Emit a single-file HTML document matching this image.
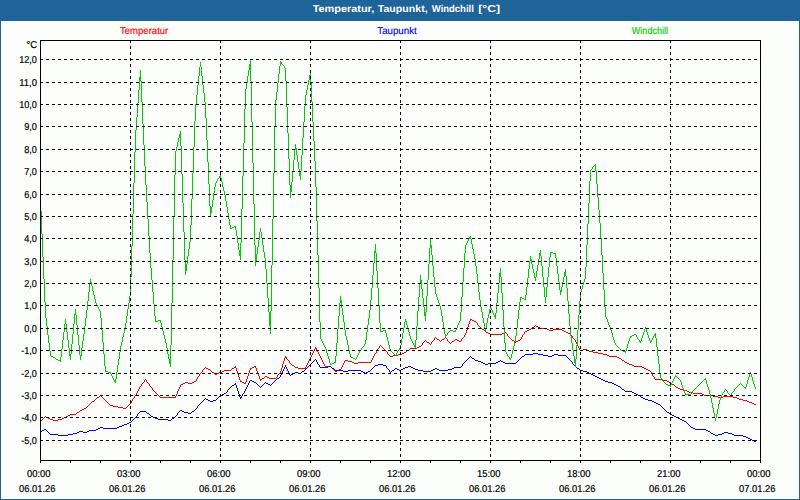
<!DOCTYPE html>
<html lang="de"><head><meta charset="utf-8"><title>Temperatur, Taupunkt, Windchill [°C]</title>
<style>
html,body{margin:0;padding:0;background:#FCFEFC;overflow:hidden}
svg{display:block}
</style></head><body>
<svg width="800" height="500" viewBox="0 0 800 500" shape-rendering="crispEdges" role="img" aria-label="Temperatur, Taupunkt, Windchill">
<rect width="800" height="500" fill="#FCFEFC"/>
<path fill="#1E6496" d="M0 0h800v21h-800zM0 21h1v479h-1zM799 21h1v479h-1zM1 499h798v1h-798z"/>
<defs><pattern id="d" width="4" height="6" patternUnits="userSpaceOnUse"><path fill="#2167AE" d="M2 1h1v1h-1zM1 3h1v1h-1zM0 5h1v1h-1z"/></pattern></defs>
<rect x="0" y="0" width="800" height="21" fill="url(#d)"/>
<path fill="#FF0000" d="M40 421h1v1h-1zM41 420h1v1h-1zM42 419h1v1h-1zM43 418h1v1h-1zM44 417h1v1h-1zM45 416h1v1h-1zM46 417h2v1h-2zM48 418h2v1h-2zM50 419h3v1h-3zM53 420h5v1h-5zM58 419h4v1h-4zM62 418h2v1h-2zM64 417h2v1h-2zM66 416h2v1h-2zM68 415h2v1h-2zM70 414h6v1h-6zM76 413h1v1h-1zM77 412h2v1h-2zM79 411h1v1h-1zM80 410h2v1h-2zM82 409h2v1h-2zM84 408h2v1h-2zM86 407h1v1h-1zM87 406h1v1h-1zM88 405h1v1h-1zM89 404h1v1h-1zM90 403h1v1h-1zM91 402h1v1h-1zM92 401h2v1h-2zM94 400h1v1h-1zM95 399h1v1h-1zM96 398h1v1h-1zM97 397h2v1h-2zM99 396h1v1h-1zM100 395h1v1h-1zM101 396h1v1h-1zM102 397h1v1h-1zM103 398h1v1h-1zM104 399h1v1h-1zM105 400h1v1h-1zM106 401h1v1h-1zM107 402h1v1h-1zM108 403h1v1h-1zM109 404h1v1h-1zM110 405h3v1h-3zM113 406h5v1h-5zM118 407h5v1h-5zM123 408h3v1h-3zM126 407h1v1h-1zM127 406h1v1h-1zM128 405h1v1h-1zM129 404h1v1h-1zM130 403h1v1h-1zM131 401h1v2h-1zM132 399h1v2h-1zM133 398h1v1h-1zM134 396h1v2h-1zM135 395h1v1h-1zM136 393h1v2h-1zM137 391h1v2h-1zM138 389h1v2h-1zM139 387h1v2h-1zM140 386h1v1h-1zM141 384h1v2h-1zM142 383h1v1h-1zM143 382h1v1h-1zM144 380h1v2h-1zM145 379h1v1h-1zM146 380h1v2h-1zM147 382h1v1h-1zM148 383h1v1h-1zM149 384h1v2h-1zM150 386h1v1h-1zM151 387h1v1h-1zM152 388h1v2h-1zM153 390h1v1h-1zM154 391h1v1h-1zM155 392h1v1h-1zM156 393h1v1h-1zM157 394h1v1h-1zM158 395h1v1h-1zM159 396h1v1h-1zM160 397h15v1h-15zM175 396h1v2h-1zM176 394h1v2h-1zM177 391h1v3h-1zM178 389h1v2h-1zM179 387h1v2h-1zM180 385h1v2h-1zM181 384h2v1h-2zM183 383h2v1h-2zM185 382h3v1h-3zM188 383h4v1h-4zM192 382h2v1h-2zM194 381h2v1h-2zM196 379h1v2h-1zM197 377h1v2h-1zM198 376h1v1h-1zM199 374h1v2h-1zM200 373h1v1h-1zM201 372h1v1h-1zM202 370h1v2h-1zM203 369h1v1h-1zM204 368h1v1h-1zM205 367h1v1h-1zM206 368h2v1h-2zM208 369h2v1h-2zM210 370h1v1h-1zM211 371h1v1h-1zM212 372h2v1h-2zM214 373h1v1h-1zM215 374h2v1h-2zM217 373h2v1h-2zM219 372h3v1h-3zM222 371h2v1h-2zM224 370h7v1h-7zM231 369h1v1h-1zM232 368h2v1h-2zM234 367h1v1h-1zM235 366h1v2h-1zM236 368h1v3h-1zM237 371h1v3h-1zM238 374h1v3h-1zM239 377h1v3h-1zM240 380h1v2h-1zM241 381h1v1h-1zM242 382h2v1h-2zM244 383h1v1h-1zM245 382h1v2h-1zM246 379h1v3h-1zM247 376h1v3h-1zM248 373h1v3h-1zM249 370h1v3h-1zM250 368h1v2h-1zM251 368h1v1h-1zM252 367h2v1h-2zM254 366h1v1h-1zM255 366h1v2h-1zM256 368h1v3h-1zM257 371h1v3h-1zM258 374h1v2h-1zM259 376h1v3h-1zM260 379h1v2h-1zM261 379h1v1h-1zM262 378h2v1h-2zM264 377h1v1h-1zM265 376h2v1h-2zM267 377h2v1h-2zM269 378h7v1h-7zM276 377h1v1h-1zM277 375h1v2h-1zM278 374h1v1h-1zM279 373h1v1h-1zM280 371h1v2h-1zM281 368h1v3h-1zM282 364h1v4h-1zM283 361h1v3h-1zM284 358h1v3h-1zM285 356h1v2h-1zM286 357h1v2h-1zM287 359h1v1h-1zM288 360h1v1h-1zM289 361h1v2h-1zM290 363h1v1h-1zM291 364h1v1h-1zM292 365h2v1h-2zM294 366h1v1h-1zM295 367h3v1h-3zM298 368h7v1h-7zM305 367h1v2h-1zM306 365h1v2h-1zM307 363h1v2h-1zM308 361h1v2h-1zM309 359h1v2h-1zM310 357h1v2h-1zM311 355h1v2h-1zM312 353h1v2h-1zM313 351h1v2h-1zM314 349h1v2h-1zM315 347h1v2h-1zM316 348h1v2h-1zM317 350h1v2h-1zM318 352h1v2h-1zM319 354h1v2h-1zM320 356h1v2h-1zM321 358h1v2h-1zM322 360h1v2h-1zM323 362h1v2h-1zM324 364h1v2h-1zM325 366h6v1h-6zM331 367h1v1h-1zM332 368h1v1h-1zM333 369h1v1h-1zM334 370h1v1h-1zM335 371h2v1h-2zM337 370h2v1h-2zM339 369h2v1h-2zM341 367h1v2h-1zM342 365h1v2h-1zM343 363h1v2h-1zM344 361h1v2h-1zM345 360h3v1h-3zM348 361h4v1h-4zM352 362h2v1h-2zM354 363h4v1h-4zM358 362h13v1h-13zM371 360h1v2h-1zM372 358h1v2h-1zM373 356h1v2h-1zM374 354h1v2h-1zM375 353h1v1h-1zM376 351h1v2h-1zM377 349h1v2h-1zM378 348h1v1h-1zM379 346h1v2h-1zM380 345h1v1h-1zM381 346h1v1h-1zM382 347h1v1h-1zM383 348h1v1h-1zM384 349h1v1h-1zM385 350h1v1h-1zM386 351h1v1h-1zM387 352h1v2h-1zM388 354h1v1h-1zM389 355h1v1h-1zM390 356h3v1h-3zM393 355h5v1h-5zM398 354h4v1h-4zM402 353h2v1h-2zM404 352h2v1h-2zM406 351h1v1h-1zM407 350h2v1h-2zM409 349h1v1h-1zM410 348h7v1h-7zM417 347h2v1h-2zM419 346h2v1h-2zM421 345h1v1h-1zM422 343h1v2h-1zM423 342h1v1h-1zM424 341h1v1h-1zM425 340h1v1h-1zM426 341h1v1h-1zM427 342h2v1h-2zM429 343h1v1h-1zM430 344h1v1h-1zM431 342h1v2h-1zM432 341h1v1h-1zM433 340h1v1h-1zM434 338h1v2h-1zM435 337h1v1h-1zM436 338h1v1h-1zM437 339h2v1h-2zM439 340h1v1h-1zM440 341h1v1h-1zM441 340h1v1h-1zM442 339h2v1h-2zM444 338h1v1h-1zM445 337h1v1h-1zM446 338h1v1h-1zM447 339h1v2h-1zM448 341h1v1h-1zM449 342h1v1h-1zM450 343h1v1h-1zM451 342h1v1h-1zM452 341h2v1h-2zM454 340h1v1h-1zM455 339h2v1h-2zM457 340h2v1h-2zM459 341h2v1h-2zM461 339h1v2h-1zM462 338h1v1h-1zM463 337h1v1h-1zM464 335h1v2h-1zM465 333h1v2h-1zM466 330h1v3h-1zM467 327h1v3h-1zM468 324h1v3h-1zM469 321h1v3h-1zM470 319h1v2h-1zM471 319h1v1h-1zM472 320h2v1h-2zM474 321h2v1h-2zM476 322h1v1h-1zM477 323h1v2h-1zM478 325h1v1h-1zM479 326h1v1h-1zM480 327h1v1h-1zM481 328h1v1h-1zM482 329h2v1h-2zM484 330h1v1h-1zM485 331h1v1h-1zM486 332h2v1h-2zM488 333h2v1h-2zM490 334h12v1h-12zM502 333h2v1h-2zM504 332h2v1h-2zM506 333h1v1h-1zM507 334h1v2h-1zM508 336h1v1h-1zM509 337h1v1h-1zM510 338h1v1h-1zM511 339h1v1h-1zM512 340h2v1h-2zM514 341h1v1h-1zM515 342h1v1h-1zM516 341h2v1h-2zM518 340h2v1h-2zM520 339h1v1h-1zM521 337h1v2h-1zM522 335h1v2h-1zM523 334h1v1h-1zM524 332h1v2h-1zM525 331h2v1h-2zM527 330h2v1h-2zM529 329h2v1h-2zM531 328h1v1h-1zM532 327h2v1h-2zM534 326h1v1h-1zM535 325h1v1h-1zM536 326h2v1h-2zM538 327h2v1h-2zM540 328h7v1h-7zM547 329h2v1h-2zM549 330h4v1h-4zM553 329h9v1h-9zM562 330h2v1h-2zM564 331h2v1h-2zM566 332h2v1h-2zM568 333h2v1h-2zM570 334h1v1h-1zM571 335h1v1h-1zM572 336h1v2h-1zM573 338h1v1h-1zM574 339h1v1h-1zM575 340h1v2h-1zM576 342h1v2h-1zM577 344h1v2h-1zM578 346h1v2h-1zM579 348h1v2h-1zM580 350h3v1h-3zM583 349h4v1h-4zM587 350h2v1h-2zM589 351h4v1h-4zM593 352h5v1h-5zM598 353h5v1h-5zM603 354h4v1h-4zM607 355h2v1h-2zM609 356h8v1h-8zM617 357h2v1h-2zM619 358h2v1h-2zM621 359h1v1h-1zM622 360h2v1h-2zM624 361h1v1h-1zM625 362h2v1h-2zM627 363h2v1h-2zM629 364h3v1h-3zM632 365h2v1h-2zM634 366h8v1h-8zM642 367h2v1h-2zM644 368h2v1h-2zM646 369h2v1h-2zM648 370h2v1h-2zM650 371h1v1h-1zM651 372h1v2h-1zM652 374h1v2h-1zM653 376h1v1h-1zM654 377h1v2h-1zM655 379h8v1h-8zM663 380h4v1h-4zM667 381h2v1h-2zM669 382h2v1h-2zM671 383h1v1h-1zM672 384h2v1h-2zM674 385h1v1h-1zM675 386h1v1h-1zM676 387h2v1h-2zM678 388h2v1h-2zM680 389h3v1h-3zM683 390h4v1h-4zM687 391h2v1h-2zM689 392h4v1h-4zM693 393h9v1h-9zM702 394h2v1h-2zM704 395h9v1h-9zM713 396h5v1h-5zM718 397h5v1h-5zM723 396h10v1h-10zM733 397h4v1h-4zM737 398h2v1h-2zM739 399h4v1h-4zM743 400h4v1h-4zM747 401h2v1h-2zM749 402h3v1h-3zM752 403h2v1h-2zM754 404h2v1h-2z"/>
<path fill="#0000FF" d="M40 431h2v1h-2zM42 430h2v1h-2zM44 429h2v1h-2zM46 430h1v1h-1zM47 431h1v1h-1zM48 432h1v1h-1zM49 433h1v1h-1zM50 434h8v1h-8zM58 435h10v1h-10zM68 434h5v1h-5zM73 433h4v1h-4zM77 432h2v1h-2zM79 431h4v1h-4zM83 432h4v1h-4zM87 431h2v1h-2zM89 430h7v1h-7zM96 429h2v1h-2zM98 428h2v1h-2zM100 427h3v1h-3zM103 428h14v1h-14zM117 427h2v1h-2zM119 426h3v1h-3zM122 425h2v1h-2zM124 424h3v1h-3zM127 423h2v1h-2zM129 422h2v1h-2zM131 421h1v1h-1zM132 420h1v1h-1zM133 419h1v1h-1zM134 418h1v1h-1zM135 417h1v1h-1zM136 416h1v1h-1zM137 414h1v2h-1zM138 413h1v1h-1zM139 412h1v1h-1zM140 411h6v1h-6zM146 412h1v1h-1zM147 413h2v1h-2zM149 414h1v1h-1zM150 415h1v1h-1zM151 416h2v1h-2zM153 417h2v1h-2zM155 418h3v1h-3zM158 419h10v1h-10zM168 420h3v1h-3zM171 419h1v1h-1zM172 418h2v1h-2zM174 417h1v1h-1zM175 416h1v1h-1zM176 415h1v1h-1zM177 413h1v2h-1zM178 412h1v1h-1zM179 411h1v1h-1zM180 410h2v1h-2zM182 411h2v1h-2zM184 412h4v1h-4zM188 413h3v1h-3zM191 412h1v1h-1zM192 411h2v1h-2zM194 410h1v1h-1zM195 409h1v1h-1zM196 408h1v1h-1zM197 406h1v2h-1zM198 405h1v1h-1zM199 404h1v1h-1zM200 403h1v1h-1zM201 402h1v1h-1zM202 401h1v1h-1zM203 400h1v1h-1zM204 399h1v1h-1zM205 398h1v1h-1zM206 399h2v1h-2zM208 400h2v1h-2zM210 401h3v1h-3zM213 400h3v1h-3zM216 399h1v1h-1zM217 398h1v1h-1zM218 397h1v1h-1zM219 396h1v1h-1zM220 395h2v1h-2zM222 394h2v1h-2zM224 393h2v1h-2zM226 392h1v1h-1zM227 390h1v2h-1zM228 389h1v1h-1zM229 388h1v1h-1zM230 387h1v1h-1zM231 386h1v1h-1zM232 385h2v1h-2zM234 384h1v1h-1zM235 383h1v2h-1zM236 385h1v3h-1zM237 388h1v3h-1zM238 391h1v3h-1zM239 394h1v3h-1zM240 397h1v2h-1zM241 396h1v2h-1zM242 394h1v2h-1zM243 393h1v1h-1zM244 391h1v2h-1zM245 389h1v2h-1zM246 387h1v2h-1zM247 385h1v2h-1zM248 383h1v2h-1zM249 381h1v2h-1zM250 380h2v1h-2zM252 381h2v1h-2zM254 382h2v1h-2zM256 383h1v1h-1zM257 384h1v1h-1zM258 385h1v1h-1zM259 386h1v1h-1zM260 387h1v1h-1zM261 386h1v1h-1zM262 385h1v1h-1zM263 384h1v1h-1zM264 383h1v1h-1zM265 382h1v1h-1zM266 383h2v1h-2zM268 384h2v1h-2zM270 385h1v1h-1zM271 384h1v1h-1zM272 383h1v1h-1zM273 382h1v1h-1zM274 381h1v1h-1zM275 380h1v1h-1zM276 379h1v1h-1zM277 378h2v1h-2zM279 377h1v1h-1zM280 375h1v2h-1zM281 373h1v2h-1zM282 371h1v2h-1zM283 369h1v2h-1zM284 367h1v2h-1zM285 365h1v2h-1zM286 367h1v2h-1zM287 369h1v2h-1zM288 371h1v2h-1zM289 373h1v2h-1zM290 375h1v1h-1zM291 374h2v1h-2zM293 373h2v1h-2zM295 372h3v1h-3zM298 373h3v1h-3zM301 372h1v1h-1zM302 371h2v1h-2zM304 370h1v1h-1zM305 369h1v1h-1zM306 368h1v1h-1zM307 367h1v1h-1zM308 366h1v1h-1zM309 365h1v1h-1zM310 364h1v1h-1zM311 363h1v1h-1zM312 362h1v1h-1zM313 361h1v1h-1zM314 360h1v1h-1zM315 359h1v1h-1zM316 360h1v2h-1zM317 362h1v2h-1zM318 364h1v1h-1zM319 365h1v2h-1zM320 367h8v1h-8zM328 366h3v1h-3zM331 367h1v1h-1zM332 368h2v1h-2zM334 369h1v1h-1zM335 370h8v1h-8zM343 371h5v1h-5zM348 370h13v1h-13zM361 371h2v1h-2zM363 372h2v1h-2zM365 373h1v1h-1zM366 372h2v1h-2zM368 371h2v1h-2zM370 370h1v1h-1zM371 369h1v1h-1zM372 368h1v1h-1zM373 367h1v1h-1zM374 366h1v1h-1zM375 365h3v1h-3zM378 364h5v1h-5zM383 365h3v1h-3zM386 366h1v2h-1zM387 368h1v1h-1zM388 369h1v1h-1zM389 370h1v2h-1zM390 372h1v1h-1zM391 371h1v1h-1zM392 370h2v1h-2zM394 369h1v1h-1zM395 368h2v1h-2zM397 369h2v1h-2zM399 370h2v1h-2zM401 369h2v1h-2zM403 368h2v1h-2zM405 367h3v1h-3zM408 366h3v1h-3zM411 367h2v1h-2zM413 368h2v1h-2zM415 369h3v1h-3zM418 370h5v1h-5zM423 371h8v1h-8zM431 370h2v1h-2zM433 369h2v1h-2zM435 368h2v1h-2zM437 369h2v1h-2zM439 370h9v1h-9zM448 369h4v1h-4zM452 368h2v1h-2zM454 367h7v1h-7zM461 366h1v1h-1zM462 364h1v2h-1zM463 363h1v1h-1zM464 362h1v1h-1zM465 361h1v1h-1zM466 360h1v1h-1zM467 359h1v1h-1zM468 358h1v1h-1zM469 357h1v1h-1zM470 356h1v1h-1zM471 357h1v1h-1zM472 358h2v1h-2zM474 359h1v1h-1zM475 360h3v1h-3zM478 361h3v1h-3zM481 362h2v1h-2zM483 363h2v1h-2zM485 364h3v1h-3zM488 363h8v1h-8zM496 362h2v1h-2zM498 361h2v1h-2zM500 360h1v1h-1zM501 361h2v1h-2zM503 362h2v1h-2zM505 363h11v1h-11zM516 362h1v1h-1zM517 361h1v1h-1zM518 360h1v1h-1zM519 359h1v1h-1zM520 358h1v1h-1zM521 357h1v1h-1zM522 356h2v1h-2zM524 355h1v1h-1zM525 354h8v1h-8zM533 353h5v1h-5zM538 354h5v1h-5zM543 355h5v1h-5zM548 356h4v1h-4zM552 355h2v1h-2zM554 354h4v1h-4zM558 355h8v1h-8zM566 356h1v1h-1zM567 357h1v1h-1zM568 358h1v1h-1zM569 359h1v1h-1zM570 360h1v1h-1zM571 361h1v1h-1zM572 362h1v2h-1zM573 364h1v1h-1zM574 365h1v1h-1zM575 366h1v1h-1zM576 367h1v1h-1zM577 368h2v1h-2zM579 369h1v1h-1zM580 370h3v1h-3zM583 371h4v1h-4zM587 372h2v1h-2zM589 373h2v1h-2zM591 374h2v1h-2zM593 375h2v1h-2zM595 376h2v1h-2zM597 377h2v1h-2zM599 378h2v1h-2zM601 379h2v1h-2zM603 380h2v1h-2zM605 381h3v1h-3zM608 382h4v1h-4zM612 383h2v1h-2zM614 384h2v1h-2zM616 385h2v1h-2zM618 386h2v1h-2zM620 387h1v1h-1zM621 388h1v1h-1zM622 389h2v1h-2zM624 390h1v1h-1zM625 391h7v1h-7zM632 392h2v1h-2zM634 393h2v1h-2zM636 394h2v1h-2zM638 395h2v1h-2zM640 396h1v1h-1zM641 397h2v1h-2zM643 398h2v1h-2zM645 399h3v1h-3zM648 400h4v1h-4zM652 401h2v1h-2zM654 402h2v1h-2zM656 403h2v1h-2zM658 404h2v1h-2zM660 405h1v1h-1zM661 406h1v1h-1zM662 407h1v1h-1zM663 408h1v1h-1zM664 409h1v1h-1zM665 410h1v1h-1zM666 411h1v1h-1zM667 412h2v1h-2zM669 413h1v1h-1zM670 414h2v1h-2zM672 415h2v1h-2zM674 416h2v1h-2zM676 417h2v1h-2zM678 418h2v1h-2zM680 419h2v1h-2zM682 420h2v1h-2zM684 421h2v1h-2zM686 422h1v1h-1zM687 423h1v1h-1zM688 424h1v1h-1zM689 425h1v1h-1zM690 426h1v1h-1zM691 427h2v1h-2zM693 428h2v1h-2zM695 429h11v1h-11zM706 430h2v1h-2zM708 431h2v1h-2zM710 432h1v1h-1zM711 433h2v1h-2zM713 434h2v1h-2zM715 435h3v1h-3zM718 434h4v1h-4zM722 433h2v1h-2zM724 432h4v1h-4zM728 433h4v1h-4zM732 434h2v1h-2zM734 435h9v1h-9zM743 436h3v1h-3zM746 437h2v1h-2zM748 438h2v1h-2zM750 439h2v1h-2zM752 440h2v1h-2zM754 441h2v1h-2z"/>
<path fill="#00CC00" d="M40 199h1v12h-1zM41 211h1v23h-1zM42 234h1v23h-1zM43 257h1v22h-1zM44 279h1v23h-1zM45 302h1v16h-1zM46 318h1v8h-1zM47 326h1v9h-1zM48 335h1v8h-1zM49 343h1v8h-1zM50 351h1v5h-1zM51 356h2v1h-2zM53 357h2v1h-2zM55 358h1v1h-1zM56 359h2v1h-2zM58 360h2v1h-2zM60 357h1v5h-1zM61 349h1v8h-1zM62 340h1v9h-1zM63 332h1v8h-1zM64 324h1v8h-1zM65 319h1v5h-1zM66 324h1v8h-1zM67 332h1v8h-1zM68 340h1v8h-1zM69 348h1v8h-1zM70 354h1v6h-1zM71 344h1v10h-1zM72 334h1v10h-1zM73 324h1v10h-1zM74 314h1v10h-1zM75 309h1v6h-1zM76 315h1v10h-1zM77 325h1v10h-1zM78 335h1v10h-1zM79 345h1v10h-1zM80 355h1v5h-1zM81 348h1v8h-1zM82 341h1v7h-1zM83 334h1v7h-1zM84 326h1v8h-1zM85 318h1v8h-1zM86 310h1v8h-1zM87 301h1v9h-1zM88 292h1v9h-1zM89 284h1v8h-1zM90 279h1v5h-1zM91 282h1v4h-1zM92 286h1v5h-1zM93 291h1v4h-1zM94 295h1v4h-1zM95 299h1v4h-1zM96 303h1v2h-1zM97 305h1v2h-1zM98 307h1v2h-1zM99 309h1v2h-1zM100 311h1v7h-1zM101 318h1v12h-1zM102 330h1v12h-1zM103 342h1v12h-1zM104 354h1v12h-1zM105 366h1v6h-1zM106 371h2v1h-2zM108 372h2v1h-2zM110 372h1v2h-1zM111 374h1v2h-1zM112 376h1v2h-1zM113 378h1v2h-1zM114 380h1v2h-1zM115 379h1v4h-1zM116 372h1v7h-1zM117 365h1v7h-1zM118 359h1v6h-1zM119 352h1v7h-1zM120 346h1v6h-1zM121 342h1v4h-1zM122 337h1v5h-1zM123 333h1v4h-1zM124 329h1v4h-1zM125 323h1v6h-1zM126 316h1v7h-1zM127 309h1v7h-1zM128 303h1v6h-1zM129 296h1v7h-1zM130 277h1v19h-1zM131 246h1v31h-1zM132 214h1v32h-1zM133 183h1v31h-1zM134 152h1v31h-1zM135 130h1v22h-1zM136 117h1v13h-1zM137 103h1v14h-1zM138 90h1v13h-1zM139 77h1v13h-1zM140 70h1v11h-1zM141 81h1v21h-1zM142 102h1v22h-1zM143 124h1v21h-1zM144 145h1v21h-1zM145 166h1v19h-1zM146 185h1v17h-1zM147 202h1v17h-1zM148 219h1v17h-1zM149 236h1v17h-1zM150 253h1v15h-1zM151 268h1v12h-1zM152 280h1v12h-1zM153 292h1v12h-1zM154 304h1v12h-1zM155 316h1v6h-1zM156 321h2v1h-2zM158 320h2v1h-2zM160 320h1v3h-1zM161 323h1v4h-1zM162 327h1v4h-1zM163 331h1v4h-1zM164 335h1v4h-1zM165 339h1v4h-1zM166 343h1v5h-1zM167 348h1v6h-1zM168 354h1v5h-1zM169 359h1v5h-1zM170 345h1v22h-1zM171 303h1v42h-1zM172 260h1v43h-1zM173 217h1v43h-1zM174 175h1v42h-1zM175 151h1v24h-1zM176 147h1v4h-1zM177 142h1v5h-1zM178 138h1v4h-1zM179 134h1v4h-1zM180 131h1v15h-1zM181 146h1v28h-1zM182 174h1v29h-1zM183 203h1v29h-1zM184 232h1v28h-1zM185 260h1v15h-1zM186 264h1v7h-1zM187 256h1v8h-1zM188 249h1v7h-1zM189 242h1v7h-1zM190 225h1v17h-1zM191 199h1v26h-1zM192 173h1v26h-1zM193 147h1v26h-1zM194 121h1v26h-1zM195 104h1v17h-1zM196 95h1v9h-1zM197 85h1v10h-1zM198 76h1v9h-1zM199 67h1v9h-1zM200 62h1v5h-1zM201 67h1v9h-1zM202 76h1v9h-1zM203 85h1v8h-1zM204 93h1v9h-1zM205 102h1v16h-1zM206 118h1v22h-1zM207 140h1v22h-1zM208 162h1v22h-1zM209 184h1v22h-1zM210 206h1v11h-1zM211 207h1v6h-1zM212 200h1v7h-1zM213 193h1v7h-1zM214 187h1v6h-1zM215 183h1v4h-1zM216 181h1v2h-1zM217 179h1v2h-1zM218 178h1v1h-1zM219 176h1v2h-1zM220 175h1v3h-1zM221 178h1v4h-1zM222 182h1v5h-1zM223 187h1v4h-1zM224 191h1v4h-1zM225 195h1v6h-1zM226 201h1v6h-1zM227 207h1v6h-1zM228 213h1v6h-1zM229 219h1v6h-1zM230 225h1v4h-1zM231 228h1v1h-1zM232 227h2v1h-2zM234 226h1v1h-1zM235 226h1v4h-1zM236 230h1v6h-1zM237 236h1v7h-1zM238 243h1v7h-1zM239 250h1v6h-1zM240 243h1v17h-1zM241 209h1v34h-1zM242 176h1v33h-1zM243 143h1v33h-1zM244 109h1v34h-1zM245 89h1v20h-1zM246 83h1v6h-1zM247 76h1v7h-1zM248 70h1v6h-1zM249 64h1v6h-1zM250 60h1v21h-1zM251 81h1v41h-1zM252 122h1v41h-1zM253 163h1v41h-1zM254 204h1v41h-1zM255 245h1v21h-1zM256 254h1v8h-1zM257 247h1v7h-1zM258 240h1v7h-1zM259 232h1v8h-1zM260 228h1v4h-1zM261 232h1v6h-1zM262 238h1v7h-1zM263 245h1v7h-1zM264 252h1v6h-1zM265 258h1v11h-1zM266 269h1v14h-1zM267 283h1v15h-1zM268 298h1v14h-1zM269 312h1v14h-1zM270 311h1v23h-1zM271 265h1v46h-1zM272 219h1v46h-1zM273 173h1v46h-1zM274 127h1v46h-1zM275 100h1v27h-1zM276 92h1v8h-1zM277 83h1v9h-1zM278 74h1v9h-1zM279 66h1v8h-1zM280 61h1v5h-1zM281 62h1v2h-1zM282 64h1v1h-1zM283 65h1v1h-1zM284 66h1v2h-1zM285 68h1v13h-1zM286 81h1v26h-1zM287 107h1v26h-1zM288 133h1v26h-1zM289 159h1v26h-1zM290 185h1v13h-1zM291 182h1v10h-1zM292 171h1v11h-1zM293 160h1v11h-1zM294 150h1v10h-1zM295 144h1v6h-1zM296 148h1v7h-1zM297 155h1v7h-1zM298 162h1v7h-1zM299 169h1v7h-1zM300 171h1v9h-1zM301 155h1v16h-1zM302 138h1v17h-1zM303 122h1v16h-1zM304 106h1v16h-1zM305 95h1v11h-1zM306 90h1v5h-1zM307 85h1v5h-1zM308 80h1v5h-1zM309 75h1v5h-1zM310 72h1v10h-1zM311 82h1v20h-1zM312 102h1v20h-1zM313 122h1v19h-1zM314 141h1v20h-1zM315 161h1v26h-1zM316 187h1v34h-1zM317 221h1v34h-1zM318 255h1v33h-1zM319 288h1v34h-1zM320 322h1v17h-1zM321 339h1v2h-1zM322 341h1v2h-1zM323 343h1v2h-1zM324 345h1v2h-1zM325 347h1v2h-1zM326 349h1v4h-1zM327 353h1v3h-1zM328 356h1v3h-1zM329 359h1v4h-1zM330 363h1v2h-1zM331 364h1v1h-1zM332 363h2v1h-2zM334 362h1v1h-1zM335 356h1v7h-1zM336 343h1v13h-1zM337 329h1v14h-1zM338 316h1v13h-1zM339 303h1v13h-1zM340 296h1v7h-1zM341 300h1v8h-1zM342 308h1v7h-1zM343 315h1v7h-1zM344 322h1v8h-1zM345 330h1v6h-1zM346 336h1v4h-1zM347 340h1v5h-1zM348 345h1v5h-1zM349 350h1v4h-1zM350 354h1v3h-1zM351 357h2v1h-2zM353 358h2v1h-2zM355 359h1v1h-1zM356 357h1v2h-1zM357 355h1v2h-1zM358 353h1v2h-1zM359 351h1v2h-1zM360 350h1v1h-1zM361 348h1v2h-1zM362 347h1v1h-1zM363 346h1v1h-1zM364 344h1v2h-1zM365 340h1v4h-1zM366 332h1v8h-1zM367 325h1v7h-1zM368 318h1v7h-1zM369 310h1v8h-1zM370 300h1v10h-1zM371 288h1v12h-1zM372 275h1v13h-1zM373 263h1v12h-1zM374 251h1v12h-1zM375 244h1v9h-1zM376 253h1v18h-1zM377 271h1v17h-1zM378 288h1v17h-1zM379 305h1v18h-1zM380 323h1v9h-1zM381 331h2v1h-2zM383 330h2v1h-2zM385 330h1v3h-1zM386 333h1v4h-1zM387 337h1v4h-1zM388 341h1v4h-1zM389 345h1v4h-1zM390 349h1v2h-1zM391 351h1v1h-1zM392 352h1v1h-1zM393 353h1v1h-1zM394 354h1v1h-1zM395 355h1v1h-1zM396 353h1v2h-1zM397 351h1v2h-1zM398 350h1v1h-1zM399 348h1v2h-1zM400 345h1v3h-1zM401 339h1v6h-1zM402 333h1v6h-1zM403 328h1v5h-1zM404 322h1v6h-1zM405 319h1v3h-1zM406 321h1v4h-1zM407 325h1v4h-1zM408 329h1v3h-1zM409 332h1v4h-1zM410 336h1v3h-1zM411 339h1v2h-1zM412 341h1v2h-1zM413 343h1v2h-1zM414 345h1v2h-1zM415 340h1v8h-1zM416 326h1v14h-1zM417 311h1v15h-1zM418 297h1v14h-1zM419 283h1v14h-1zM420 275h1v8h-1zM421 280h1v9h-1zM422 289h1v9h-1zM423 298h1v9h-1zM424 307h1v9h-1zM425 312h1v9h-1zM426 296h1v16h-1zM427 280h1v16h-1zM428 264h1v16h-1zM429 248h1v16h-1zM430 239h1v9h-1zM431 245h1v10h-1zM432 255h1v11h-1zM433 266h1v11h-1zM434 277h1v10h-1zM435 287h1v7h-1zM436 294h1v3h-1zM437 297h1v3h-1zM438 300h1v3h-1zM439 303h1v3h-1zM440 306h1v4h-1zM441 310h1v6h-1zM442 316h1v6h-1zM443 322h1v6h-1zM444 328h1v6h-1zM445 334h1v3h-1zM446 335h1v1h-1zM447 333h1v2h-1zM448 332h1v1h-1zM449 331h1v1h-1zM450 330h3v1h-3zM453 331h2v1h-2zM455 330h1v2h-1zM456 328h1v2h-1zM457 325h1v3h-1zM458 323h1v2h-1zM459 321h1v2h-1zM460 312h1v9h-1zM461 297h1v15h-1zM462 282h1v15h-1zM463 268h1v14h-1zM464 253h1v15h-1zM465 245h1v8h-1zM466 243h1v2h-1zM467 241h1v2h-1zM468 239h1v2h-1zM469 237h1v2h-1zM470 236h1v3h-1zM471 239h1v5h-1zM472 244h1v5h-1zM473 249h1v5h-1zM474 254h1v5h-1zM475 259h1v7h-1zM476 266h1v8h-1zM477 274h1v9h-1zM478 283h1v9h-1zM479 292h1v8h-1zM480 300h1v7h-1zM481 307h1v5h-1zM482 312h1v6h-1zM483 318h1v5h-1zM484 323h1v5h-1zM485 328h1v3h-1zM486 323h1v5h-1zM487 318h1v5h-1zM488 314h1v4h-1zM489 309h1v5h-1zM490 306h1v3h-1zM491 308h1v2h-1zM492 310h1v3h-1zM493 313h1v2h-1zM494 315h1v2h-1zM495 313h1v6h-1zM496 303h1v10h-1zM497 293h1v10h-1zM498 283h1v10h-1zM499 273h1v10h-1zM500 268h1v9h-1zM501 277h1v16h-1zM502 293h1v17h-1zM503 310h1v17h-1zM504 327h1v16h-1zM505 343h1v9h-1zM506 352h1v2h-1zM507 354h1v2h-1zM508 356h1v1h-1zM509 357h1v2h-1zM510 358h1v2h-1zM511 354h1v4h-1zM512 350h1v4h-1zM513 346h1v4h-1zM514 342h1v4h-1zM515 336h1v6h-1zM516 328h1v8h-1zM517 319h1v9h-1zM518 310h1v9h-1zM519 302h1v8h-1zM520 297h1v5h-1zM521 297h1v1h-1zM522 298h2v1h-2zM524 299h1v1h-1zM525 295h1v5h-1zM526 287h1v8h-1zM527 278h1v9h-1zM528 269h1v9h-1zM529 261h1v8h-1zM530 256h1v5h-1zM531 259h1v5h-1zM532 264h1v5h-1zM533 269h1v4h-1zM534 273h1v5h-1zM535 277h1v4h-1zM536 271h1v6h-1zM537 265h1v6h-1zM538 259h1v6h-1zM539 253h1v6h-1zM540 250h1v6h-1zM541 256h1v10h-1zM542 266h1v11h-1zM543 277h1v10h-1zM544 287h1v10h-1zM545 297h1v6h-1zM546 287h1v10h-1zM547 277h1v10h-1zM548 267h1v10h-1zM549 257h1v10h-1zM550 252h1v5h-1zM551 252h2v1h-2zM553 253h2v1h-2zM555 253h1v5h-1zM556 258h1v8h-1zM557 266h1v8h-1zM558 274h1v8h-1zM559 282h1v8h-1zM560 290h1v5h-1zM561 287h1v5h-1zM562 282h1v5h-1zM563 277h1v5h-1zM564 272h1v5h-1zM565 269h1v7h-1zM566 276h1v12h-1zM567 288h1v13h-1zM568 301h1v13h-1zM569 314h1v12h-1zM570 326h1v10h-1zM571 336h1v7h-1zM572 343h1v7h-1zM573 350h1v6h-1zM574 356h1v7h-1zM575 359h1v8h-1zM576 345h1v14h-1zM577 330h1v15h-1zM578 315h1v15h-1zM579 301h1v14h-1zM580 292h1v9h-1zM581 289h1v3h-1zM582 285h1v4h-1zM583 282h1v3h-1zM584 279h1v3h-1zM585 267h1v12h-1zM586 245h1v22h-1zM587 224h1v21h-1zM588 203h1v21h-1zM589 181h1v22h-1zM590 170h1v11h-1zM591 169h1v1h-1zM592 167h1v2h-1zM593 166h1v1h-1zM594 165h1v1h-1zM595 164h1v7h-1zM596 171h1v13h-1zM597 184h1v13h-1zM598 197h1v13h-1zM599 210h1v13h-1zM600 223h1v15h-1zM601 238h1v17h-1zM602 255h1v18h-1zM603 273h1v17h-1zM604 290h1v17h-1zM605 307h1v10h-1zM606 317h1v2h-1zM607 319h1v3h-1zM608 322h1v3h-1zM609 325h1v2h-1zM610 327h1v3h-1zM611 330h1v3h-1zM612 333h1v4h-1zM613 337h1v3h-1zM614 340h1v3h-1zM615 343h1v2h-1zM616 345h1v1h-1zM617 346h1v1h-1zM618 347h1v1h-1zM619 348h1v1h-1zM620 349h1v1h-1zM621 350h2v1h-2zM623 351h2v1h-2zM625 351h1v2h-1zM626 348h1v3h-1zM627 344h1v4h-1zM628 341h1v3h-1zM629 338h1v3h-1zM630 336h1v2h-1zM631 336h1v1h-1zM632 335h2v1h-2zM634 334h2v1h-2zM636 335h1v2h-1zM637 337h1v2h-1zM638 339h1v1h-1zM639 340h1v2h-1zM640 341h1v2h-1zM641 338h1v3h-1zM642 335h1v3h-1zM643 332h1v3h-1zM644 329h1v3h-1zM645 327h1v2h-1zM646 329h1v3h-1zM647 332h1v3h-1zM648 335h1v3h-1zM649 338h1v3h-1zM650 341h1v2h-1zM651 340h1v2h-1zM652 338h1v2h-1zM653 336h1v2h-1zM654 334h1v2h-1zM655 333h1v5h-1zM656 338h1v9h-1zM657 347h1v9h-1zM658 356h1v8h-1zM659 364h1v9h-1zM660 373h1v5h-1zM661 378h1v1h-1zM662 379h1v2h-1zM663 381h1v1h-1zM664 382h1v1h-1zM665 383h1v1h-1zM666 384h2v1h-2zM668 385h2v1h-2zM670 385h1v2h-1zM671 383h1v2h-1zM672 381h1v2h-1zM673 379h1v2h-1zM674 377h1v2h-1zM675 375h1v2h-1zM676 376h1v1h-1zM677 377h1v1h-1zM678 378h1v1h-1zM679 379h1v1h-1zM680 380h1v2h-1zM681 382h1v3h-1zM682 385h1v3h-1zM683 388h1v2h-1zM684 390h1v3h-1zM685 393h1v2h-1zM686 394h5v1h-5zM691 393h1v1h-1zM692 391h1v2h-1zM693 390h1v1h-1zM694 389h1v1h-1zM695 388h1v1h-1zM696 387h1v1h-1zM697 386h1v1h-1zM698 385h1v1h-1zM699 384h1v1h-1zM700 383h1v1h-1zM701 382h1v1h-1zM702 381h1v1h-1zM703 380h1v1h-1zM704 379h1v1h-1zM705 378h1v2h-1zM706 380h1v4h-1zM707 384h1v3h-1zM708 387h1v3h-1zM709 390h1v4h-1zM710 394h1v4h-1zM711 398h1v5h-1zM712 403h1v5h-1zM713 408h1v5h-1zM714 413h1v5h-1zM715 418h1v3h-1zM716 414h1v4h-1zM717 409h1v5h-1zM718 404h1v5h-1zM719 400h1v4h-1zM720 397h1v3h-1zM721 395h1v2h-1zM722 393h1v2h-1zM723 392h1v1h-1zM724 390h1v2h-1zM725 389h1v1h-1zM726 390h1v1h-1zM727 391h1v2h-1zM728 393h1v1h-1zM729 394h1v1h-1zM730 395h1v1h-1zM731 393h1v2h-1zM732 392h1v1h-1zM733 391h1v1h-1zM734 389h1v2h-1zM735 388h1v1h-1zM736 387h1v1h-1zM737 386h1v1h-1zM738 385h1v1h-1zM739 384h1v1h-1zM740 383h1v1h-1zM741 384h1v1h-1zM742 385h1v1h-1zM743 386h1v1h-1zM744 387h1v1h-1zM745 387h1v2h-1zM746 384h1v3h-1zM747 380h1v4h-1zM748 377h1v3h-1zM749 374h1v3h-1zM750 372h1v2h-1zM751 374h1v3h-1zM752 377h1v4h-1zM753 381h1v3h-1zM754 384h1v3h-1zM755 387h1v2h-1z"/>
<path d="M40 59.5H760M40 82.5H760M40 104.5H760M40 126.5H760M40 149.5H760M40 171.5H760M40 194.5H760M40 216.5H760M40 238.5H760M40 261.5H760M40 283.5H760M40 305.5H760M40 328.5H760M40 350.5H760M40 373.5H760M40 395.5H760M40 417.5H760M40 440.5H760M130.5 40V460M220.5 40V460M310.5 40V460M400.5 40V460M490.5 40V460M580.5 40V460M670.5 40V460" stroke="#000" stroke-width="1" stroke-dasharray="3 3" fill="none"/>
<path d="M40.5 40.5H760.5V460.5H40.5ZM40.5 461v2M70.5 461v2M100.5 461v2M130.5 461v2M160.5 461v2M190.5 461v2M220.5 461v2M250.5 461v2M280.5 461v2M310.5 461v2M340.5 461v2M370.5 461v2M400.5 461v2M430.5 461v2M460.5 461v2M490.5 461v2M520.5 461v2M550.5 461v2M580.5 461v2M610.5 461v2M640.5 461v2M670.5 461v2M700.5 461v2M730.5 461v2M760.5 461v2" stroke="#000" stroke-width="1" fill="none"/>
<g font-family="Liberation Sans, Arial, sans-serif" font-size="10.0" fill="#000" shape-rendering="auto" style="text-rendering:geometricPrecision">
<text y="12" font-weight="bold" fill="#fff"><tspan x="312.7" textLength="61.6" lengthAdjust="spacingAndGlyphs">Temperatur,</tspan> <tspan x="377.8" textLength="49.8" lengthAdjust="spacingAndGlyphs">Taupunkt,</tspan> <tspan x="431.8" textLength="42" lengthAdjust="spacingAndGlyphs">Windchill</tspan> <tspan x="478.2" textLength="21.9" lengthAdjust="spacingAndGlyphs">[°C]</tspan></text>
<text x="120" y="34" fill="#FF0000" stroke="#FF0000" stroke-width="0.15" textLength="48.3" lengthAdjust="spacingAndGlyphs">Temperatur</text>
<text x="377.3" y="34" fill="#0000FF" stroke="#0000FF" stroke-width="0.15" textLength="39.4" lengthAdjust="spacingAndGlyphs">Taupunkt</text>
<text x="631.8" y="34" fill="#00CC00" stroke="#00CC00" stroke-width="0.15" textLength="36.2" lengthAdjust="spacingAndGlyphs">Windchill</text>
<text stroke="#000" stroke-width="0.2" x="26.54" y="48" textLength="10.66" lengthAdjust="spacingAndGlyphs">°C</text>
<text stroke="#000" stroke-width="0.2" x="19.14" y="63" textLength="17.81" lengthAdjust="spacingAndGlyphs">12,0</text>
<text stroke="#000" stroke-width="0.2" x="19.14" y="86" textLength="17.81" lengthAdjust="spacingAndGlyphs">11,0</text>
<text stroke="#000" stroke-width="0.2" x="19.14" y="108" textLength="17.81" lengthAdjust="spacingAndGlyphs">10,0</text>
<text stroke="#000" stroke-width="0.2" x="24.23" y="130" textLength="12.72" lengthAdjust="spacingAndGlyphs">9,0</text>
<text stroke="#000" stroke-width="0.2" x="24.23" y="153" textLength="12.72" lengthAdjust="spacingAndGlyphs">8,0</text>
<text stroke="#000" stroke-width="0.2" x="24.23" y="175" textLength="12.72" lengthAdjust="spacingAndGlyphs">7,0</text>
<text stroke="#000" stroke-width="0.2" x="24.23" y="198" textLength="12.72" lengthAdjust="spacingAndGlyphs">6,0</text>
<text stroke="#000" stroke-width="0.2" x="24.23" y="220" textLength="12.72" lengthAdjust="spacingAndGlyphs">5,0</text>
<text stroke="#000" stroke-width="0.2" x="24.23" y="242" textLength="12.72" lengthAdjust="spacingAndGlyphs">4,0</text>
<text stroke="#000" stroke-width="0.2" x="24.23" y="265" textLength="12.72" lengthAdjust="spacingAndGlyphs">3,0</text>
<text stroke="#000" stroke-width="0.2" x="24.23" y="287" textLength="12.72" lengthAdjust="spacingAndGlyphs">2,0</text>
<text stroke="#000" stroke-width="0.2" x="24.23" y="309" textLength="12.72" lengthAdjust="spacingAndGlyphs">1,0</text>
<text stroke="#000" stroke-width="0.2" x="24.23" y="332" textLength="12.72" lengthAdjust="spacingAndGlyphs">0,0</text>
<text stroke="#000" stroke-width="0.2" x="21.18" y="354" textLength="15.77" lengthAdjust="spacingAndGlyphs">-1,0</text>
<text stroke="#000" stroke-width="0.2" x="21.18" y="377" textLength="15.77" lengthAdjust="spacingAndGlyphs">-2,0</text>
<text stroke="#000" stroke-width="0.2" x="21.18" y="399" textLength="15.77" lengthAdjust="spacingAndGlyphs">-3,0</text>
<text stroke="#000" stroke-width="0.2" x="21.18" y="421" textLength="15.77" lengthAdjust="spacingAndGlyphs">-4,0</text>
<text stroke="#000" stroke-width="0.2" x="21.18" y="444" textLength="15.77" lengthAdjust="spacingAndGlyphs">-5,0</text>
<text stroke="#000" stroke-width="0.2" x="26.98" y="477" textLength="23.52" lengthAdjust="spacingAndGlyphs">00:00</text>
<text stroke="#000" stroke-width="0.2" x="19.01" y="492" textLength="36.39" lengthAdjust="spacingAndGlyphs">06.01.26</text>
<text stroke="#000" stroke-width="0.2" x="116.98" y="477" textLength="23.52" lengthAdjust="spacingAndGlyphs">03:00</text>
<text stroke="#000" stroke-width="0.2" x="109.01" y="492" textLength="36.39" lengthAdjust="spacingAndGlyphs">06.01.26</text>
<text stroke="#000" stroke-width="0.2" x="206.98" y="477" textLength="23.52" lengthAdjust="spacingAndGlyphs">06:00</text>
<text stroke="#000" stroke-width="0.2" x="199.01" y="492" textLength="36.39" lengthAdjust="spacingAndGlyphs">06.01.26</text>
<text stroke="#000" stroke-width="0.2" x="296.98" y="477" textLength="23.52" lengthAdjust="spacingAndGlyphs">09:00</text>
<text stroke="#000" stroke-width="0.2" x="289.01" y="492" textLength="36.39" lengthAdjust="spacingAndGlyphs">06.01.26</text>
<text stroke="#000" stroke-width="0.2" x="386.98" y="477" textLength="23.52" lengthAdjust="spacingAndGlyphs">12:00</text>
<text stroke="#000" stroke-width="0.2" x="379.01" y="492" textLength="36.39" lengthAdjust="spacingAndGlyphs">06.01.26</text>
<text stroke="#000" stroke-width="0.2" x="476.98" y="477" textLength="23.52" lengthAdjust="spacingAndGlyphs">15:00</text>
<text stroke="#000" stroke-width="0.2" x="469.01" y="492" textLength="36.39" lengthAdjust="spacingAndGlyphs">06.01.26</text>
<text stroke="#000" stroke-width="0.2" x="566.98" y="477" textLength="23.52" lengthAdjust="spacingAndGlyphs">18:00</text>
<text stroke="#000" stroke-width="0.2" x="559.01" y="492" textLength="36.39" lengthAdjust="spacingAndGlyphs">06.01.26</text>
<text stroke="#000" stroke-width="0.2" x="656.98" y="477" textLength="23.52" lengthAdjust="spacingAndGlyphs">21:00</text>
<text stroke="#000" stroke-width="0.2" x="649.01" y="492" textLength="36.39" lengthAdjust="spacingAndGlyphs">06.01.26</text>
<text stroke="#000" stroke-width="0.2" x="746.98" y="477" textLength="23.52" lengthAdjust="spacingAndGlyphs">00:00</text>
<text stroke="#000" stroke-width="0.2" x="739.01" y="492" textLength="36.39" lengthAdjust="spacingAndGlyphs">07.01.26</text>
</g>
</svg>
</body></html>
